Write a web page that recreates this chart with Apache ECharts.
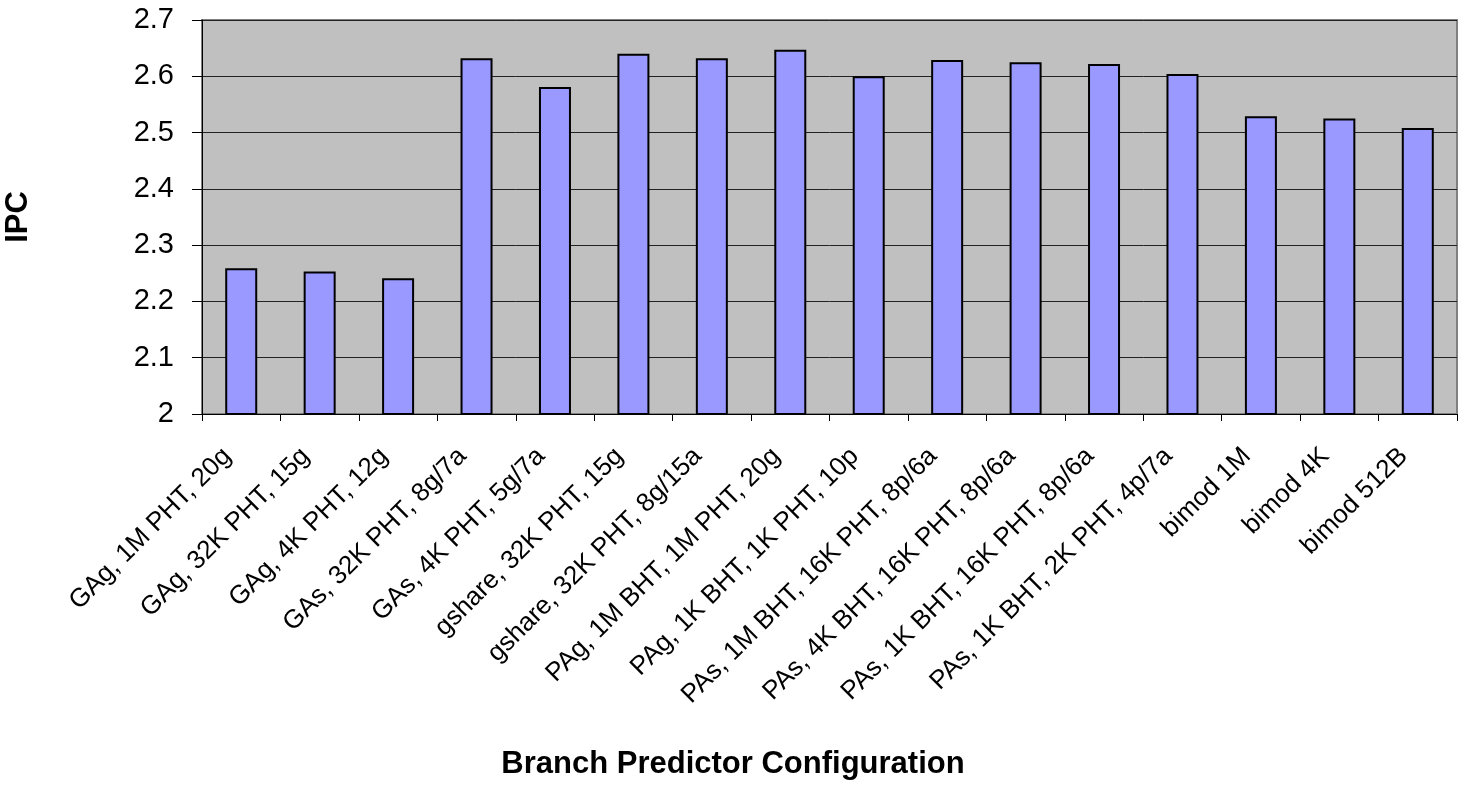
<!DOCTYPE html>
<html>
<head>
<meta charset="utf-8">
<script src="https://cdn.jsdelivr.net/npm/echarts@6/dist/echarts.min.js"></script>
<style>
  html, body { margin: 0; padding: 0; background: #fff; }
  #chart { width: 1468px; height: 793px; }
</style>
</head>
<body>
<div id="chart"></div>
<script>
const categories = [
  'GAg, 1M PHT, 20g', 'GAg, 32K PHT, 15g', 'GAg, 4K PHT, 12g',
  'GAs, 32K PHT, 8g/7a', 'GAs, 4K PHT, 5g/7a',
  'gshare, 32K PHT, 15g', 'gshare, 32K PHT, 8g/15a',
  'PAg, 1M BHT, 1M PHT, 20g', 'PAg, 1K BHT, 1K PHT, 10p',
  'PAs, 1M BHT, 16K PHT, 8p/6a', 'PAs, 4K BHT, 16K PHT, 8p/6a',
  'PAs, 1K BHT, 16K PHT, 8p/6a', 'PAs, 1K BHT, 2K PHT, 4p/7a',
  'bimod 1M', 'bimod 4K', 'bimod 512B'
];
const ipcValues = [2.259, 2.253, 2.241, 2.632, 2.581, 2.640, 2.632, 2.647,
  2.600, 2.629, 2.625, 2.622, 2.604, 2.529, 2.525, 2.508];

const font = 'Liberation Sans, Arial, sans-serif';
const myChart = echarts.init(document.getElementById('chart'));

const option = {
  animation: false,
  backgroundColor: '#fff',
  grid: {
    left: 202,
    right: 11,
    top: 20,
    bottom: 379,
    outerBoundsMode: 'none',
    containLabel: false,
    show: true,
    backgroundColor: '#c0c0c0',
    borderColor: '#808080',
    borderWidth: 2,
  },
  graphic: [{
    type: 'text',
    x: 733,
    y: 764,
    style: {
      text: 'Branch Predictor Configuration',
      font: 'bold 31px ' + font,
      fill: '#000',
      textAlign: 'center',
      textVerticalAlign: 'middle',
    },
  }],
  xAxis: {
    type: 'category',
    data: categories,
    axisLine: { lineStyle: { color: '#000', width: 1 } },
    axisTick: { show: true, length: 7, lineStyle: { color: '#000' } },
    axisLabel: {
      rotate: 45,
      interval: 0,
      margin: 24,
      padding: [0, 20, 0, 0],
      color: '#000',
      fontSize: 26,
      fontFamily: font,
    },
  },
  yAxis: {
    type: 'value',
    min: 2,
    max: 2.7,
    interval: 0.1,
    name: 'IPC',
    nameLocation: 'middle',
    nameGap: 168,
    nameTextStyle: { color: '#000', fontSize: 31, fontWeight: 'bold', fontFamily: font },
    axisLine: { show: true, lineStyle: { color: '#000', width: 1 } },
    axisTick: { show: true, length: 10, lineStyle: { color: '#000' } },
    axisLabel: { color: '#000', fontSize: 29, fontFamily: font, margin: 28 },
    splitLine: { lineStyle: { color: '#222', width: 1 } },
  },
  series: [{
    type: 'bar',
    data: ipcValues,
    barWidth: 32,
    itemStyle: { color: '#9999ff', borderColor: '#000', borderWidth: 2 },
  }],
};

myChart.setOption(option);
</script>
</body>
</html>
